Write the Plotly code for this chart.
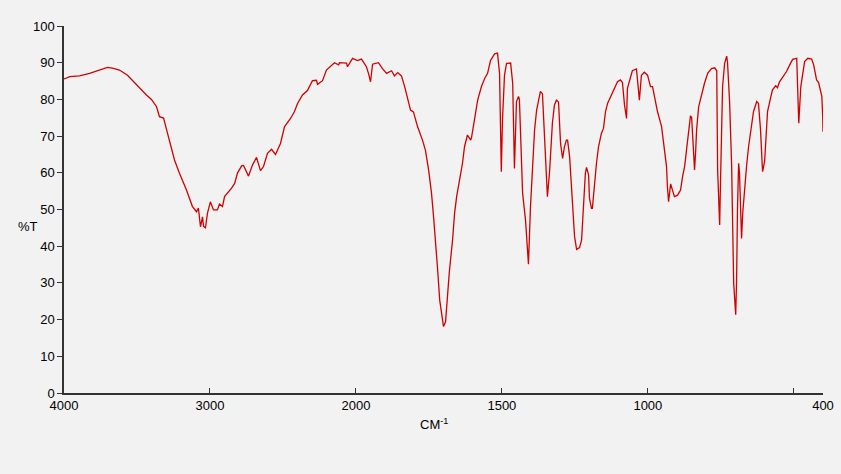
import plotly.graph_objects as go

# IR spectrum: wavenumber (cm-1) and transmittance (%T)
wavenumber = [
    4000, 3990, 3962, 3894, 3825, 3757, 3702, 3668, 3620, 3565, 3503, 3435, 3401, 3366, 3346, 3318,
    3291, 3243, 3209, 3161, 3120, 3092, 3079, 3065, 3051, 3044, 3031, 3017, 2997, 2976, 2949, 2935,
    2914, 2900, 2852, 2831, 2811, 2783, 2770, 2736, 2709, 2681, 2654, 2633, 2606, 2578, 2551, 2517,
    2489, 2448, 2421, 2400, 2366, 2332, 2298, 2270, 2263, 2229, 2202, 2147, 2119, 2112, 2064, 2058,
    2023, 1995, 1981, 1964, 1957, 1950, 1943, 1923, 1909, 1895, 1878, 1868, 1857, 1844, 1833, 1823,
    1813, 1803, 1789, 1772, 1762, 1751, 1741, 1734, 1727, 1720, 1713, 1706, 1700, 1693, 1690, 1686,
    1680, 1669, 1662, 1655, 1645, 1635, 1628, 1618, 1607, 1604, 1594, 1583, 1570, 1559, 1549, 1539,
    1525, 1515, 1508, 1505, 1502, 1498, 1491, 1484, 1470, 1463, 1460, 1457, 1450, 1443, 1440, 1433,
    1429, 1419, 1412, 1409, 1402, 1395, 1388, 1381, 1368, 1361, 1354, 1347, 1344, 1337, 1327, 1320,
    1313, 1306, 1299, 1292, 1286, 1279, 1275, 1268, 1262, 1258, 1251, 1244, 1234, 1227, 1220, 1214,
    1210, 1203, 1200, 1193, 1190, 1183, 1176, 1169, 1159, 1152, 1145, 1138, 1124, 1114, 1104, 1094,
    1087, 1080, 1073, 1070, 1059, 1053, 1039, 1036, 1029, 1022, 1012, 1001, 991, 984, 974, 967,
    953, 946, 936, 933, 929, 922, 915, 909, 898, 888, 881, 874, 867, 860, 854, 850,
    843, 840, 836, 833, 826, 816, 806, 795, 782, 771, 764, 761, 754, 751, 747, 744,
    737, 730, 727, 720, 713, 710, 706, 699, 696, 693, 689, 686, 682, 679, 675, 669,
    662, 655, 645, 638, 627, 621, 614, 607, 600, 593, 590, 580, 573, 562, 556, 549,
    538, 525, 514, 504, 490, 487, 483, 476, 469, 463, 452, 439, 432, 422, 415, 404,
    401, 400,
]
transmittance = [
    85.6, 85.7, 86.2, 86.4, 87.1, 88.0, 88.7, 88.5, 88.0, 86.6, 83.9, 81.2, 80.0, 78.0, 75.3, 74.9,
    70.8, 63.5, 59.9, 55.3, 50.8, 49.4, 50.4, 45.3, 48.0, 45.4, 45.0, 49.0, 52.1, 49.9, 49.9, 51.5,
    50.8, 53.5, 55.8, 57.1, 60.0, 61.9, 62.0, 59.1, 62.1, 64.2, 60.6, 61.7, 65.3, 66.4, 65.0, 68.0,
    72.6, 74.8, 76.7, 78.9, 81.2, 82.4, 85.1, 85.2, 84.1, 85.1, 88.0, 90.0, 89.4, 90.0, 89.9, 88.9,
    91.2, 90.6, 91.0, 88.9, 87.1, 84.8, 89.6, 90.0, 88.4, 87.1, 87.8, 86.4, 87.3, 86.4, 83.5, 80.3,
    77.1, 76.6, 72.6, 68.9, 66.2, 60.8, 54.4, 48.0, 41.7, 33.5, 25.3, 20.8, 18.1, 19.4, 22.5, 27.2,
    33.0, 41.7, 49.0, 53.5, 58.0, 62.6, 67.1, 70.3, 68.9, 69.6, 74.4, 79.8, 83.5, 85.7, 87.1, 90.6,
    92.4, 92.6, 87.1, 67.1, 60.3, 74.4, 86.6, 89.8, 89.9, 84.4, 71.7, 61.2, 79.4, 80.8, 80.0, 64.4,
    54.4, 47.1, 39.9, 35.1, 50.8, 59.9, 71.7, 77.1, 82.2, 81.5, 68.0, 59.0, 53.5, 59.9, 73.5, 78.5,
    79.8, 79.3, 68.0, 63.9, 67.0, 68.9, 68.9, 64.4, 57.1, 50.8, 42.6, 39.1, 39.6, 41.7, 52.6, 59.9,
    61.5, 59.4, 53.0, 50.3, 50.3, 57.1, 62.6, 67.1, 70.8, 72.1, 76.7, 78.9, 81.2, 83.0, 84.8, 85.3,
    84.6, 78.5, 74.8, 83.0, 86.6, 87.8, 88.3, 85.9, 79.8, 86.6, 87.4, 86.6, 83.5, 83.5, 79.8, 76.7,
    72.6, 68.0, 61.7, 56.2, 52.1, 57.0, 55.3, 53.5, 53.9, 55.3, 59.0, 61.7, 66.6, 71.7, 75.5, 75.1,
    66.2, 60.8, 66.2, 71.7, 78.0, 81.6, 84.4, 87.1, 88.4, 88.6, 87.8, 60.8, 45.8, 58.0, 72.6, 83.5,
    89.8, 91.8, 90.0, 79.4, 62.1, 44.0, 29.9, 21.3, 30.8, 49.9, 62.6, 59.9, 49.0, 42.1, 49.0, 56.2,
    61.7, 67.1, 72.6, 76.7, 79.4, 78.9, 71.7, 60.3, 63.1, 70.8, 76.7, 80.3, 82.6, 83.7, 83.2, 84.8,
    86.2, 87.6, 89.4, 90.9, 91.2, 82.6, 73.5, 83.5, 88.0, 90.3, 91.2, 91.0, 89.4, 85.3, 84.6, 80.8,
    75.3, 71.2,
]

tick_wavenumbers = [4000, 3000, 2000, 1500, 1000, 500, 400]
tick_labels = ["4000", "3000", "2000", "1500", "1000", "", "400"]
y_ticks = list(range(0, 101, 10))


def axis_pos(wn):
    # IR chart scale: compressed above 2000 cm-1 (half scale), expanded below
    if wn >= 2000:
        return (4000 - wn) / 2.0
    return 1000 + (2000 - wn)


xs = [axis_pos(w) for w in wavenumber]

fig = go.Figure()
fig.add_trace(go.Scatter(
    x=xs, y=transmittance, mode="lines",
    line=dict(color="#d00000", width=1.3),
    hoverinfo="skip", showlegend=False,
))

font = dict(family="Liberation Sans, Arial, sans-serif", size=13, color="#000000")

fig.update_layout(
    template="none",
    width=841, height=474,
    margin=dict(l=64, r=18, t=26, b=81),
    paper_bgcolor="#f2f2f2", plot_bgcolor="#f2f2f2",
    font=font,
    xaxis=dict(
        range=[0, 2600], showgrid=False, zeroline=False, automargin=False,
        showline=True, linecolor="#333333", linewidth=1.5,
        tickmode="array", tickvals=[axis_pos(w) for w in tick_wavenumbers],
        ticktext=tick_labels, ticks="inside", ticklen=5, tickcolor="#333333",
        tickfont=font,
    ),
    yaxis=dict(
        range=[0, 100], showgrid=False, zeroline=False, automargin=False,
        showline=True, linecolor="#333333", linewidth=1.5,
        tickmode="array", tickvals=y_ticks, ticks="outside", ticklen=5,
        tickcolor="#333333", tickfont=font,
    ),
    annotations=[
        dict(text="%T", xref="paper", yref="paper", x=-0.048, y=0.455,
             showarrow=False, font=font, xanchor="center", yanchor="middle"),
        dict(text="CM<sup>-1</sup>", xref="paper", yref="paper", x=0.488, y=-0.085,
             showarrow=False, font=font, xanchor="center", yanchor="middle"),
    ],
)

fig.write_html(
    "out.html",
    config={"displayModeBar": False},
    post_script="document.body.style.margin='0';document.body.style.background='#f2f2f2';",
)
